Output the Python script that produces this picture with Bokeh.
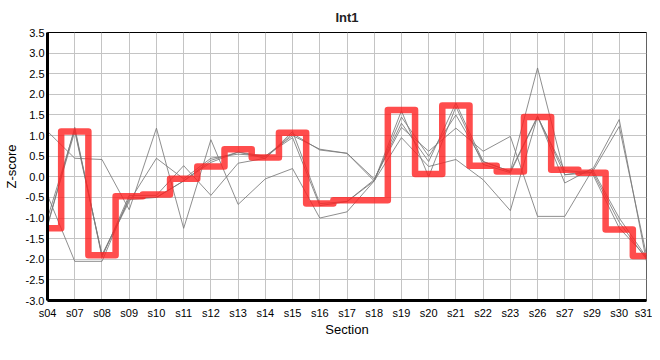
from bokeh.plotting import figure
from bokeh.embed import file_html
from bokeh.resources import INLINE
from bokeh.models import FixedTicker, NumeralTickFormatter, Range1d

sections = ["s04", "s07", "s08", "s09", "s10", "s11", "s12", "s13", "s14", "s15", "s16",
            "s17", "s18", "s19", "s20", "s21", "s22", "s23", "s26", "s27", "s29", "s30", "s31"]

int1 = [-1.25, 1.1, -1.9, -0.47, -0.43, -0.05, 0.25, 0.67, 0.47, 1.07, -0.65,
        -0.57, -0.57, 1.62, 0.07, 1.73, 0.27, 0.13, 1.45, 0.17, 0.1, -1.28, -1.92]

gray_a = [1.1, 0.45, 0.42, -0.8, 1.18, -1.25, 0.9, -0.67, -0.05, 0.2, -1.0,
          -0.85, -0.1, 0.95, 0.25, 0.42, -0.07, -0.82, 1.47, -0.15, 0.2, -1.0, -1.95]
gray_b = [-0.45, -2.05, -2.05, -0.5, -0.5, -0.1, 0.35, 0.6, 0.5, 1.0, 0.67,
          0.57, -0.05, 1.2, 0.62, 1.18, 0.62, 0.98, -0.96, -0.96, 0.15, 1.39, -2.05]
gray_c = [-1.2, 1.2, -1.95, -0.45, -0.45, 0.27, -0.45, 0.33, 0.45, 1.05, 0.65,
          0.57, -0.1, 1.45, 0.5, 1.5, 0.37, 0.13, 2.64, 0.05, 0.1, 1.22, -1.9]
gray_d = [-1.0, 1.15, -1.9, -0.6, 0.45, -0.05, 0.45, 0.55, 0.5, 0.95, -0.7,
          -0.6, -0.07, 1.3, 0.37, 1.79, 0.37, 0.13, 1.47, 0.05, 0.15, -1.1, -2.0]
gray_e = [-1.15, 1.1, -1.9, -0.55, -0.5, -0.1, 0.4, 0.6, 0.45, 1.1, -0.65,
          -0.6, -0.1, 1.6, 0.0, 1.7, 0.3, 0.1, 1.45, 0.15, 0.1, -1.24, -1.95]

y_ticks = [-3.0, -2.5, -2.0, -1.5, -1.0, -0.5, 0.0, 0.5, 1.0, 1.5, 2.0, 2.5, 3.0, 3.5]

p = figure(width=652, height=339, x_range=sections, y_range=Range1d(-3.0, 3.5),
           output_backend="svg", toolbar_location=None, title="Int1",
           min_border_left=45, min_border_right=6, min_border_top=10, min_border_bottom=10)
p.x_range.range_padding = -0.498
p.x_range.range_padding_units = "absolute"
p.x_range.factor_padding = 0

for g in [gray_a, gray_b, gray_c, gray_d, gray_e]:
    p.line(sections, g, line_color="#7a7a7a", line_width=1, line_alpha=0.85)

p.step(sections, int1, mode="center", line_color="#ff2020", line_alpha=0.8,
       line_width=6.5, line_join="round", line_cap="round")

p.title.align = "center"
p.title.text_font = "Liberation Sans"
p.title.text_font_size = "13px"
p.title.text_font_style = "bold"
p.title.text_color = "#222222"
p.title.standoff = 15

p.outline_line_color = "black"
p.outline_line_width = 1

for ax in [p.xaxis[0], p.yaxis[0]]:
    ax.axis_line_color = "black"
    ax.axis_line_width = 3
    ax.major_tick_line_color = "black"
    ax.major_tick_in = 0
    ax.major_tick_out = 0
    ax.minor_tick_line_color = None
    ax.major_label_text_font = "Liberation Sans"
    ax.major_label_text_font_size = "11px"
    ax.major_label_text_color = "black"
    ax.axis_label_text_font = "Liberation Sans"
    ax.axis_label_text_font_size = "13px"
    ax.axis_label_text_font_style = "normal"
    ax.axis_label_text_color = "black"

p.xaxis.axis_label = "Section"
p.yaxis.axis_label = "Z-score"
p.yaxis.ticker = FixedTicker(ticks=y_ticks)
p.yaxis.formatter = NumeralTickFormatter(format="0.0")
p.yaxis.major_label_standoff = 3
p.xaxis.major_label_standoff = 6
p.yaxis.axis_label_standoff = 4
p.xaxis.axis_label_standoff = 0

p.xgrid.grid_line_color = "#c4c4c4"
p.ygrid.grid_line_color = "#c4c4c4"
p.xgrid.grid_line_width = 1
p.ygrid.grid_line_width = 1

open("out.html", "w").write(file_html(p, INLINE))
